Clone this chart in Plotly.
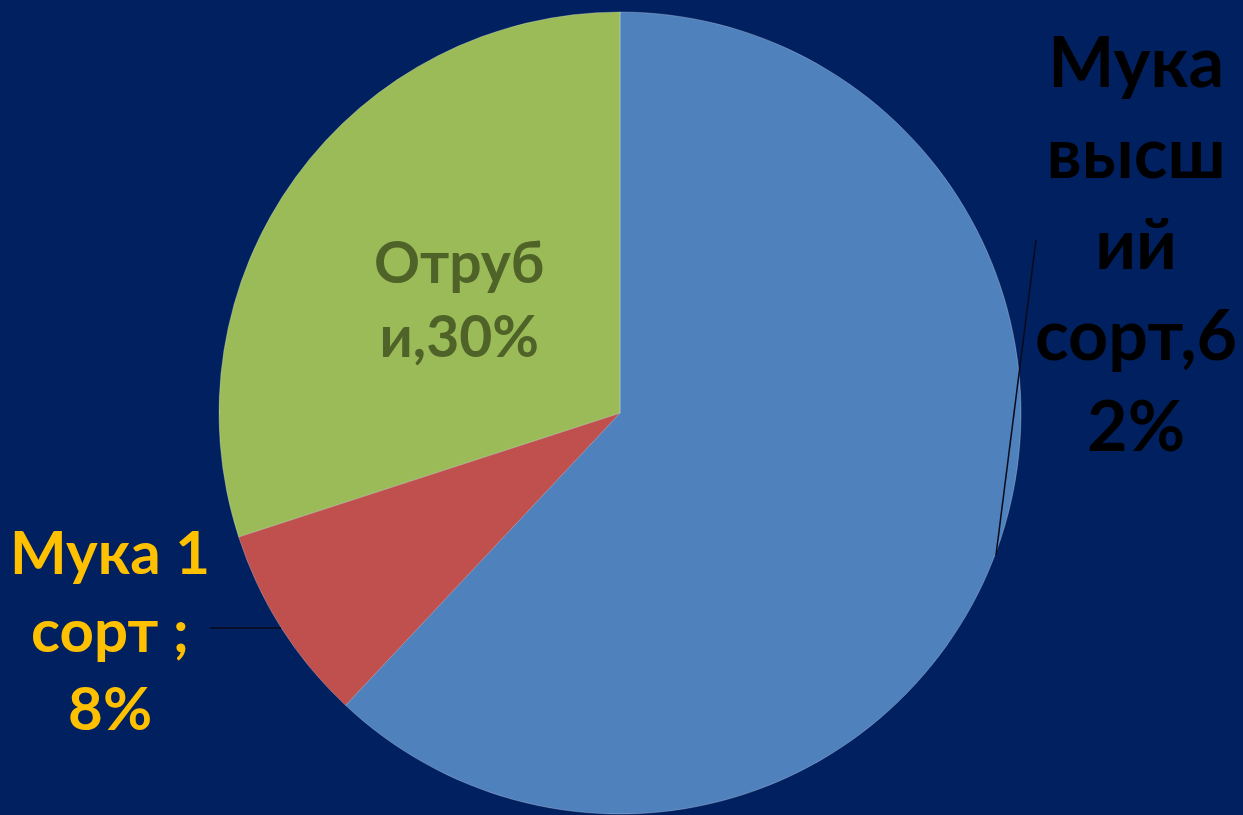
import plotly.graph_objects as go

# Flour milling yield shares
categories = ["Мука высший сорт", "Мука 1 сорт", "Отруби"]
shares = [62, 8, 30]
slice_colors = ["#4F81BD", "#C0504D", "#9BBB59"]

W, H = 1243, 815
BG = "#002060"
FONT = "Lato"


def px_x(x):
    return x / W


def px_y(y):
    return 1 - y / H


# pie geometry in pixels
cx, cy, r = 620, 413, 401

fig = go.Figure(
    go.Pie(
        labels=categories,
        values=shares,
        sort=False,
        direction="clockwise",
        rotation=0,
        marker=dict(colors=slice_colors, line=dict(color="rgba(255,255,255,0.25)", width=1)),
        textinfo="none",
        hoverinfo="label+percent",
        showlegend=False,
        domain=dict(x=[px_x(cx - r), px_x(cx + r)], y=[px_y(cy + r), px_y(cy - r)]),
    )
)

labels = [
    dict(text="Мука<br>высш<br>ий<br>сорт,6<br>2%", x=1136, y=242, size=70, color="#000000"),
    dict(text="Мука 1<br>сорт ;<br>8%", x=110, y=629, size=60, color="#FFC000"),
    dict(text="Отруб<br>и,30%", x=459, y=298, size=57, color="#4F6228"),
]
for lab in labels:
    fig.add_annotation(
        text=lab["text"],
        x=px_x(lab["x"]),
        y=px_y(lab["y"]),
        xref="paper",
        yref="paper",
        xanchor="center",
        yanchor="middle",
        showarrow=False,
        font=dict(family=FONT, size=lab["size"], color=lab["color"], weight="bold"),
        align="center",
    )

# leader lines
fig.add_shape(type="line", xref="paper", yref="paper",
              x0=px_x(1036), y0=px_y(240), x1=px_x(996), y1=px_y(555),
              line=dict(color="#0a0a1a", width=1.5))
fig.add_shape(type="line", xref="paper", yref="paper",
              x0=px_x(210), y0=px_y(628), x1=px_x(281), y1=px_y(628),
              line=dict(color="#0a0a1a", width=1.5))

fig.update_layout(
    width=W,
    height=H,
    margin=dict(l=0, r=0, t=0, b=0),
    paper_bgcolor=BG,
    plot_bgcolor=BG,
)

fig.write_html("out.html")
